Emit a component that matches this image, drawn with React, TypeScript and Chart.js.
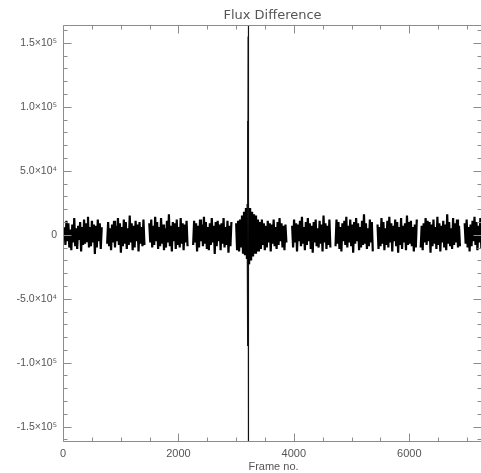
import React, { useEffect, useRef } from "react";
import { Chart, registerables } from "chart.js";

Chart.register(...registerables);

// Frame spacing inside each recorded block
const STEP = 17;

// Flux difference per block, in units of 10^3 (each block starts at its own frame)
const block1Start = 25;
const block1 = [6, -8, 11, -5, 9, -10, 4, -12, 8, -6, 13, -9, 5, -11, 7, -4, 10, -13, 6, -8, 12, -7, 9, -5, 14, -10, 6, -9, 11, -6, 8, -15, 7, -10, 12, -5, 9, -11, 6];
const block2Start = 765;
const block2 = [-7, 10, -9, 5, -12, 8, -6, 11, -10, 7, -5, 13, -8, 9, -14, 6, -9, 12, -7, 10, -11, 5, -8, 15, -6, 9, -12, 7, -10, 11, -5, 8, -13, 10, -7, 6, -9, 12, -8];
const block3Start = 1495;
const block3 = [9, -6, 12, -10, 7, -8, 14, -5, 10, -11, 6, -9, 13, -7, 8, -12, 5, -10, 11, -6, 16, -9, 7, -13, 10, -5, 9, -11, 12, -8, 6, -10, 13, -7, 9, -12, 8, -6, 11, -9];
const block4Start = 2255;
const block4 = [-8, 11, -6, 9, -13, 7, -10, 12, -5, 8, -9, 14, -7, 10, -11, 6, -12, 9, -8, 13, -6, 7, -15, 10, -9, 11, -5, 8, -12, 9, -7, 13, -10, 6, -8, 11, -14, 7, -9, 10];
// Block 5 holds the event: a burst before, the spike itself, and the ring-down after
const burstStart = 3000;
const burst = [9, -12, 11, -13, 12, -10, 15, -14, 18, -16, 21, -19];
const spikeFrames = [3190, 3193, 3197, 3200, 3203, 3205, 3207, 3208, 3209, 3211, 3214, 3218, 3222];
const spikeValues = [24, -22, 28, -26, 89, -87, 155, -88, 185, -185, 40, -30, 26];
const ringStart = 3225;
const ring = [-23, 21, -20, 18, -17, 16, -14, 15, -13, 12, -13, 10, -11, 12, -8, 9, -12, 7, -10, 11, -6, 9, -13, 8, -7, 12, -9, 6, -11, 10, -8, 13, -5, 9, -10, 7, -12, 8, -6];
const block6Start = 3970;
const block6 = [7, -10, 12, -6, 9, -13, 8, -5, 11, -9, 14, -7, 6, -12, 10, -8, 13, -5, 9, -11, 7, -14, 10, -6, 12, -9, 5, -10, 11, -7, 8, -13, 15, -6, 9, -11, 7, -8, 12, -10];
const block7Start = 4722;
const block7 = [-9, 12, -7, 10, -11, 6, -13, 9, -5, 11, -8, 14, -10, 7, -6, 12, -9, 8, -14, 10, -7, 13, -5, 9, -12, 6, -10, 11, -8, 16, -7, 9, -11, 5, -9, 12, -6, 10, -13];
const block8Start = 5450;
const block8 = [8, -11, 6, -9, 13, -7, 10, -12, 5, -8, 11, -10, 14, -6, 9, -13, 7, -5, 12, -9, 10, -14, 6, -8, 13, -11, 7, -6, 9, -12, 15, -8, 10, -7, 11, -9, 6, -13, 8, -10, 12];
const block9Start = 6198;
const block9 = [-10, 7, -12, 9, -6, 13, -8, 11, -5, 10, -14, 8, -9, 12, -7, 6, -11, 14, -8, 9, -13, 7, -6, 11, -10, 8, -12, 16, -7, 10, -9, 5, -11, 13, -8, 9, -6, 12, -10, 7, -9];
const block10Start = 6960;
const block10 = [9, -7, 12, -10, 6, -13, 8, -9, 11, -5, 14, -8, 10, -12, 7, -6, 13, -11, 9, -8, 10];

// Axis ranges and labelled ticks
const xMin = 0;
const xMax = 7260;
const yMin = -162000;
const yMax = 164000;
const xTickValues = [0, 2000, 4000, 6000];
const yTickValues = [-150000, -100000, -50000, 0, 50000, 100000, 150000];
const xMinorStep = 500;
const yMinorStep = 10000;

const TITLE = "Flux Difference";
const X_TITLE = "Frame no.";

type Pt = { x: number; y: number | null };

function blockPoints(start: number, vals: number[]): Pt[] {
  return vals.map((v, i) => ({ x: start + i * STEP, y: v * 1000 }));
}

function gap(p: Pt[]): Pt[] {
  return [...p, { x: p[p.length - 1].x + 1, y: null }];
}

function noiseSeries(): Pt[] {
  return [
    ...gap(blockPoints(block1Start, block1)),
    ...gap(blockPoints(block2Start, block2)),
    ...gap(blockPoints(block3Start, block3)),
    ...gap(blockPoints(block4Start, block4)),
    ...gap(blockPoints(burstStart, burst)),
    ...gap(blockPoints(ringStart, ring)),
    ...gap(blockPoints(block6Start, block6)),
    ...gap(blockPoints(block7Start, block7)),
    ...gap(blockPoints(block8Start, block8)),
    ...gap(blockPoints(block9Start, block9)),
    ...blockPoints(block10Start, block10),
  ];
}

function spikeSeries(): Pt[] {
  const lastBurst = burst.length - 1;
  return [
    { x: burstStart + lastBurst * STEP, y: burst[lastBurst] * 1000 },
    ...spikeFrames.map((f, i) => ({ x: f, y: spikeValues[i] * 1000 })),
    { x: ringStart, y: ring[0] * 1000 },
  ];
}

const SUP: Record<string, string> = { "0": "⁰", "1": "¹", "2": "²", "3": "³", "4": "⁴", "5": "⁵", "6": "⁶", "7": "⁷", "8": "⁸", "9": "⁹" };

function sciLabel(v: number): string {
  if (v === 0) return "0";
  const a = Math.abs(v);
  const e = Math.floor(Math.log10(a));
  const m = (a / Math.pow(10, e)).toFixed(1);
  const sup = String(e).split("").map((c) => SUP[c] || c).join("");
  return (v < 0 ? "-" : "") + m + "×10" + sup;
}

const AXIS_COLOR = "#8c8c8c";
const TEXT_COLOR = "#555";
const FONT = "'Liberation Sans', Arial, sans-serif";

// Draws the boxed frame with inward-pointing ticks plus title texts
const framePlugin = {
  id: "boxFrame",
  afterDraw(chart: Chart) {
    const { ctx, chartArea } = chart;
    const xs = chart.scales.x;
    const ys = chart.scales.y;
    const { left, right, top, bottom } = chartArea;
    ctx.save();
    ctx.strokeStyle = AXIS_COLOR;
    ctx.lineWidth = 1;
    const L = Math.round(left) + 0.5;
    const R = Math.round(right) - 0.5;
    const T = Math.round(top) + 0.5;
    const B = Math.round(bottom) - 0.5;
    ctx.beginPath();
    ctx.rect(L, T, R - L, B - T);
    const major = 8;
    const minor = 4;
    for (let v = xMin; v <= xMax; v += xMinorStep) {
      const px = Math.round(xs.getPixelForValue(v)) + 0.5;
      const len = xTickValues.includes(v) ? major : minor;
      ctx.moveTo(px, B);
      ctx.lineTo(px, B - len);
      ctx.moveTo(px, T);
      ctx.lineTo(px, T + len);
    }
    for (let v = Math.ceil(yMin / yMinorStep) * yMinorStep; v <= yMax; v += yMinorStep) {
      const py = Math.round(ys.getPixelForValue(v)) + 0.5;
      const len = yTickValues.includes(v) ? major : minor;
      ctx.moveTo(L, py);
      ctx.lineTo(L + len, py);
      ctx.moveTo(R, py);
      ctx.lineTo(R - len, py);
    }
    ctx.stroke();

    ctx.fillStyle = TEXT_COLOR;
    ctx.textAlign = "center";
    ctx.textBaseline = "middle";
    const cx = (left + right) / 2;
    ctx.font = "13px 'DejaVu Sans', sans-serif";
    ctx.fillText(TITLE, cx, 16);
    ctx.font = "11px " + FONT;
    ctx.fillText(X_TITLE, cx + 1, 467);
    ctx.restore();
  },
};

export default function App() {
  const canvasRef = useRef<HTMLCanvasElement | null>(null);

  useEffect(() => {
    const canvas = canvasRef.current;
    if (!canvas) return;
    const chart = new Chart(canvas, {
      type: "line",
      data: {
        datasets: [
          {
            data: noiseSeries() as any,
            borderColor: "#000",
            borderWidth: 2.2,
            pointRadius: 0,
            tension: 0,
            spanGaps: false,
          },
          {
            data: spikeSeries() as any,
            borderColor: "#111",
            borderWidth: 1.2,
            pointRadius: 0,
            tension: 0,
            spanGaps: false,
          },
        ],
      },
      options: {
        animation: false,
        responsive: false,
        devicePixelRatio: 1,
        events: [],
        layout: { padding: { top: 25, left: 0, right: 1, bottom: 0 } },
        plugins: { legend: { display: false }, tooltip: { enabled: false }, title: { display: false } },
        scales: {
          x: {
            type: "linear",
            min: xMin,
            max: xMax,
            grid: { display: false, drawTicks: false },
            border: { display: false },
            ticks: {
              padding: 5,
              color: TEXT_COLOR,
              font: { family: FONT, size: 11 },
              maxRotation: 0,
              callback: (v: any) => String(v),
            },
            afterBuildTicks: (s: any) => {
              s.ticks = xTickValues.map((v) => ({ value: v }));
            },
            afterFit: (s: any) => {
              s.height = 31;
            },
          },
          y: {
            type: "linear",
            min: yMin,
            max: yMax,
            grid: { display: false, drawTicks: false },
            border: { display: false },
            ticks: {
              padding: 6,
              color: TEXT_COLOR,
              font: { family: FONT, size: 10.5 },
              callback: (v: any) => sciLabel(Number(v)),
            },
            afterBuildTicks: (s: any) => {
              s.ticks = yTickValues.map((v) => ({ value: v }));
            },
            afterFit: (s: any) => {
              s.width = 63;
            },
          },
        },
      },
      plugins: [framePlugin],
    });
    return () => chart.destroy();
  }, []);

  return (
    <div
      style={{
        position: "fixed",
        left: 0,
        top: 0,
        width: 481,
        height: 473,
        overflow: "hidden",
        background: "#fff",
      }}
    >
      <canvas ref={canvasRef} width={483} height={473} style={{ width: 483, height: 473, display: "block" }} />
    </div>
  );
}
